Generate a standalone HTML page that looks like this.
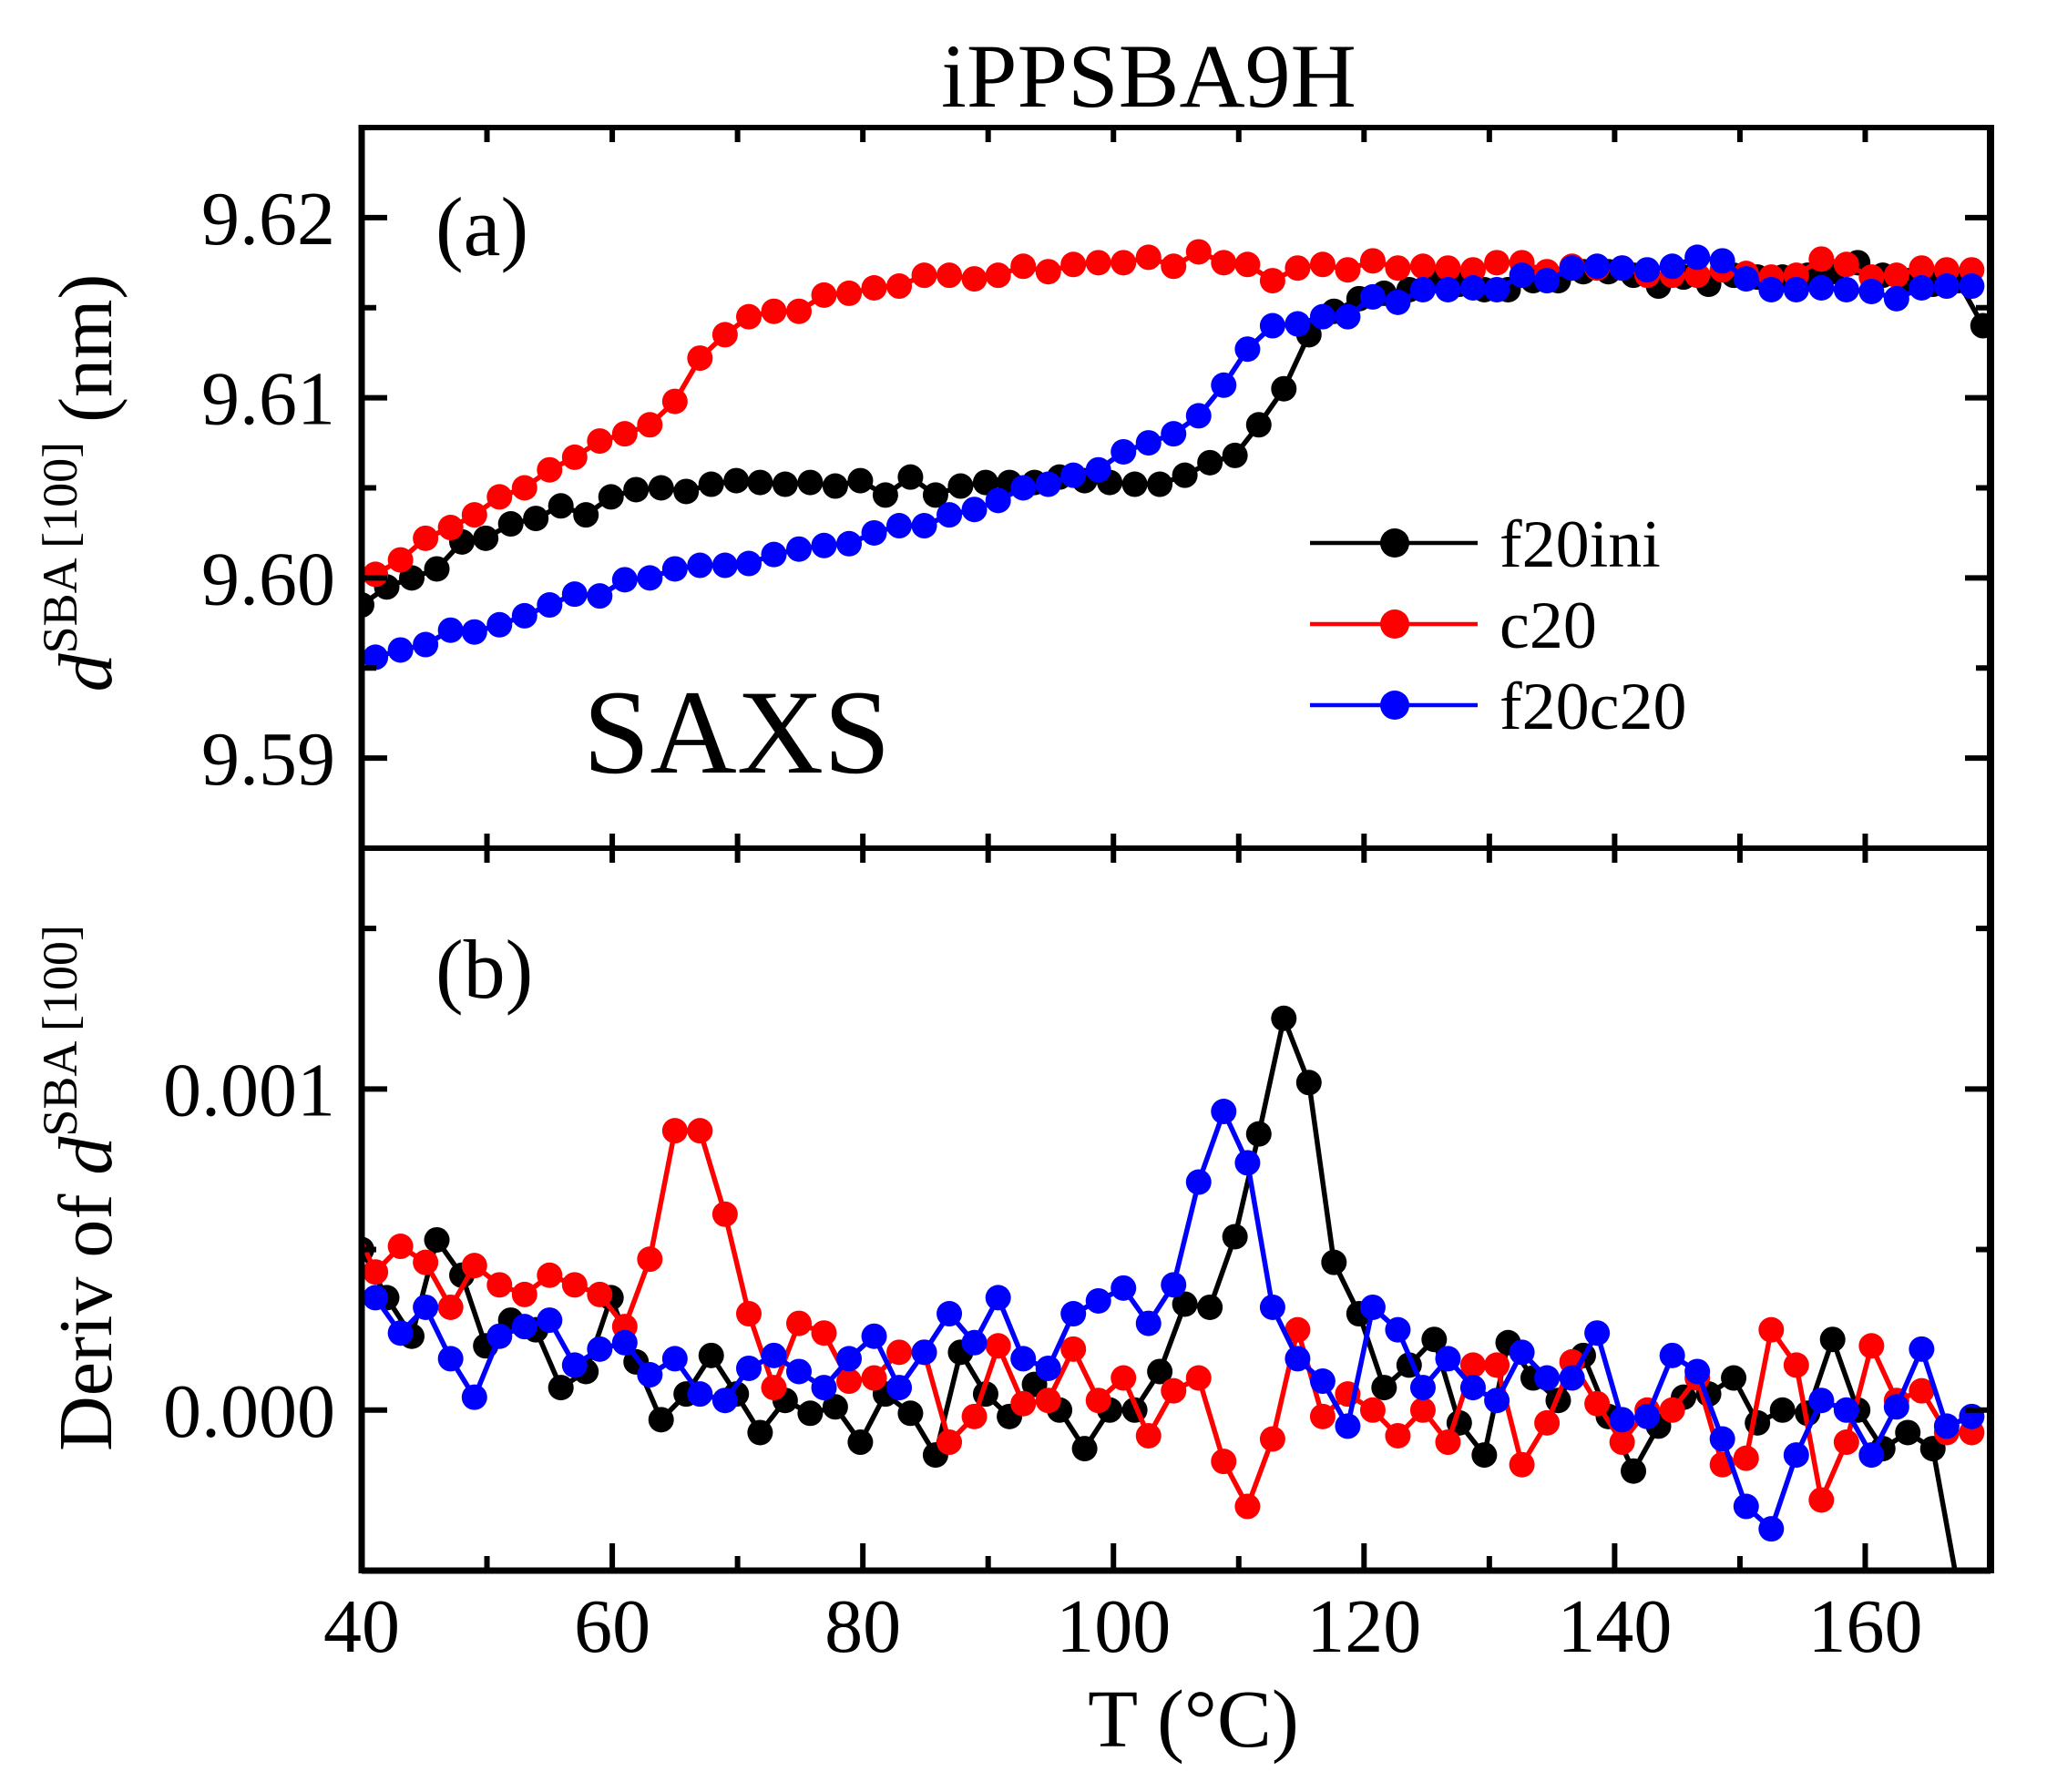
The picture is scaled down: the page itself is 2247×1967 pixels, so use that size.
<!DOCTYPE html>
<html><head><meta charset="utf-8">
<style>
html,body{margin:0;padding:0;background:#fff;}
svg{display:block;}
text{font-family:"Liberation Serif","DejaVu Serif",serif;fill:#000;}
</style></head>
<body>
<svg id="chart" width="2247" height="1967" viewBox="0 0 2247 1967" xmlns="http://www.w3.org/2000/svg">
<defs>
<clipPath id="clipA"><rect x="397" y="140" width="1788" height="791"/></clipPath>
<clipPath id="clipB"><rect x="397" y="931" width="1788" height="793"/></clipPath>
</defs>
<text x="1261" y="117" font-size="100" text-anchor="middle">iPPSBA9H</text>
<g id="gA"></g>
<g id="gB"></g>
<g id="axes"></g>
<text x="478" y="280" font-size="92">(a)</text>
<text x="478" y="1095" font-size="92">(b)</text>
<text x="640" y="848" font-size="132">SAXS</text>
<text transform="translate(122,530) rotate(-90)" font-size="84" text-anchor="middle"><tspan font-style="italic">d</tspan><tspan font-size="54" dy="-38">SBA [100]</tspan><tspan dy="38"> (nm)</tspan></text>
<text transform="translate(122,1304) rotate(-90)" font-size="84" text-anchor="middle">Deriv of <tspan font-style="italic">d</tspan><tspan font-size="54" dy="-38">SBA [100]</tspan></text>
<text x="1310" y="1917" font-size="90" text-anchor="middle">T (°C)</text>
<g id="legend"></g>
</svg>
<script>
const tempsF20ini = [40.0,42.0,44.0,46.0,48.0,49.9,51.9,53.9,55.9,57.9,59.9,61.9,63.9,65.9,67.9,69.9,71.8,73.8,75.8,77.8,79.8,81.8,83.8,85.8,87.8,89.8,91.7,93.7,95.7,97.7,99.7,101.7,103.7,105.7,107.7,109.7,111.6,113.6,115.6,117.6,119.6,121.6,123.6,125.6,127.6,129.6,131.5,133.5,135.5,137.5,139.5,141.5,143.5,145.5,147.5,149.5,151.4,153.4,155.4,157.4,159.4,161.4,163.4,165.4,167.4,169.4];
const tempsC20 = [39.1,41.1,43.1,45.1,47.1,49.0,51.0,53.0,55.0,57.0,59.0,61.0,63.0,65.0,67.0,69.0,70.9,72.9,74.9,76.9,78.9,80.9,82.9,84.9,86.9,88.9,90.8,92.8,94.8,96.8,98.8,100.8,102.8,104.8,106.8,108.8,110.7,112.7,114.7,116.7,118.7,120.7,122.7,124.7,126.7,128.7,130.6,132.6,134.6,136.6,138.6,140.6,142.6,144.6,146.6,148.6,150.5,152.5,154.5,156.5,158.5,160.5,162.5,164.5,166.5,168.5];
const tempsF20c20 = [39.1,41.1,43.1,45.1,47.1,49.0,51.0,53.0,55.0,57.0,59.0,61.0,63.0,65.0,67.0,69.0,70.9,72.9,74.9,76.9,78.9,80.9,82.9,84.9,86.9,88.9,90.8,92.8,94.8,96.8,98.8,100.8,102.8,104.8,106.8,108.8,110.7,112.7,114.7,116.7,118.7,120.7,122.7,124.7,126.7,128.7,130.6,132.6,134.6,136.6,138.6,140.6,142.6,144.6,146.6,148.6,150.5,152.5,154.5,156.5,158.5,160.5,162.5,164.5,166.5,168.5];
const dF20ini = [9.5985,9.5995,9.600,9.6005,9.602,9.6022,9.603,9.6033,9.604,9.6035,9.6045,9.6049,9.605,9.6048,9.6052,9.6054,9.6053,9.6052,9.6053,9.6051,9.6054,9.6046,9.6056,9.6046,9.6051,9.6053,9.6053,9.6053,9.6056,9.6054,9.6053,9.6052,9.6052,9.6057,9.6064,9.6068,9.6085,9.6105,9.6135,9.6148,9.6155,9.6158,9.616,9.6165,9.6163,9.616,9.616,9.6165,9.6165,9.617,9.617,9.6168,9.6162,9.6167,9.6163,9.6168,9.6167,9.6167,9.6168,9.617,9.6175,9.6168,9.6165,9.6163,9.6165,9.614];
const dC20 = [9.5995,9.6002,9.601,9.6022,9.6028,9.6035,9.6045,9.605,9.606,9.6067,9.6076,9.608,9.6085,9.6098,9.6122,9.6135,9.6145,9.6148,9.6148,9.6157,9.6158,9.6161,9.6162,9.6168,9.6168,9.6166,9.6168,9.6173,9.617,9.6174,9.6175,9.6175,9.6178,9.6173,9.6181,9.6175,9.6174,9.6165,9.6172,9.6174,9.6171,9.6176,9.6172,9.6173,9.6172,9.6171,9.6175,9.6175,9.617,9.6173,9.6172,9.6172,9.6168,9.6168,9.6168,9.6171,9.6169,9.6167,9.6168,9.6177,9.6174,9.6167,9.6168,9.6172,9.6171,9.6171];
const dF20c20 = [9.5955,9.5956,9.596,9.5963,9.5971,9.597,9.5974,9.5979,9.5985,9.5991,9.599,9.5999,9.6,9.6005,9.6007,9.6007,9.6008,9.6013,9.6016,9.6018,9.6019,9.6025,9.6029,9.6029,9.6035,9.6038,9.6043,9.605,9.6052,9.6057,9.606,9.607,9.6075,9.608,9.609,9.6107,9.6127,9.614,9.6141,9.6145,9.6145,9.6156,9.6153,9.616,9.616,9.6161,9.616,9.6168,9.6165,9.6172,9.6173,9.6172,9.6171,9.6173,9.6178,9.6176,9.6166,9.616,9.616,9.6161,9.616,9.6159,9.6155,9.6161,9.6162,9.6162];
// derivative values in units of 1e-3
const derivF20ini = [0.5,0.35,0.23,0.53,0.42,0.2,0.28,0.25,0.07,0.12,0.35,0.15,-0.03,0.05,0.17,0.05,-0.07,0.03,-0.01,0.01,-0.1,0.05,-0.01,-0.14,0.18,0.05,-0.02,0.08,0.0,-0.12,0.0,0.0,0.12,0.33,0.32,0.54,0.86,1.22,1.02,0.46,0.3,0.07,0.14,0.22,-0.04,-0.14,0.21,0.1,0.03,0.17,-0.02,-0.19,-0.05,0.04,0.05,0.1,-0.04,0.0,-0.01,0.22,0.0,-0.12,-0.07,-0.12,-0.55,-0.9];
const derivC20 = [0.6,0.43,0.51,0.46,0.32,0.45,0.39,0.36,0.42,0.39,0.36,0.26,0.47,0.87,0.87,0.61,0.3,0.07,0.27,0.24,0.09,0.1,0.18,0.18,-0.1,-0.02,0.2,0.02,0.03,0.19,0.03,0.1,-0.08,0.06,0.1,-0.16,-0.3,-0.09,0.25,-0.02,0.05,0.0,-0.08,0.0,-0.1,0.14,0.14,-0.17,-0.04,0.15,0.02,-0.1,0.0,0.0,0.1,-0.17,-0.15,0.25,0.14,-0.28,-0.1,0.2,0.03,0.06,-0.07,-0.07];
const derivF20c20 = [0.32,0.35,0.24,0.32,0.16,0.04,0.23,0.26,0.28,0.14,0.19,0.21,0.11,0.16,0.05,0.03,0.13,0.17,0.12,0.07,0.16,0.23,0.07,0.18,0.3,0.21,0.35,0.16,0.13,0.3,0.34,0.38,0.27,0.39,0.71,0.93,0.77,0.32,0.16,0.09,-0.05,0.32,0.25,0.07,0.16,0.07,0.03,0.18,0.1,0.1,0.24,-0.03,-0.02,0.17,0.12,-0.09,-0.3,-0.37,-0.14,0.03,0.0,-0.14,0.01,0.19,-0.05,-0.02];
const seriesNames = ["f20ini","c20","f20c20"];
const seriesColors = ["#000000","#ff0000","#0000ff"];
const xTickLabels = ["40","60","80","100","120","140","160"];
const yTickLabelsA = ["9.59","9.60","9.61","9.62"];
const yTickLabelsB = ["0.000","0.001"];

const NS="http://www.w3.org/2000/svg";
const L=397,R=2185,TA=140,MID=931,BB=1724;
const xS=t=>L+(t-40)/(170-40)*(R-L);
const yA=v=>TA+(9.625-v)/(9.625-9.585)*(MID-TA);
const yB=v=>MID+(1.75-v)/(1.75-(-0.5))*(BB-MID);
function mk(tag,at,parent){const e=document.createElementNS(NS,tag);for(const k in at)e.setAttribute(k,at[k]);parent.appendChild(e);return e;}

function drawSeries(parent,xs,ys,yf,color,name,clip){
  const g=mk('g',{'clip-path':'url(#'+clip+')'},parent);
  
  
  const pts=xs.map((t,i)=>xS(t).toFixed(1)+','+yf(ys[i]).toFixed(1)).join(' ');
  const pl=mk('polyline',{points:pts,fill:'none',stroke:color,'stroke-width':5.5,'stroke-linejoin':'round'},g);
  
  
  xs.forEach((t,i)=>{
    const c=mk('circle',{cx:xS(t),cy:yf(ys[i]),r:14,fill:color},g);
    
    
  });
}
const gA=document.getElementById('gA'),gB=document.getElementById('gB');
const tempSets=[tempsF20ini,tempsC20,tempsF20c20];
const topData=[dF20ini,dC20,dF20c20],botData=[derivF20ini,derivC20,derivF20c20];
topData.forEach((d,i)=>drawSeries(gA,tempSets[i],d,yA,seriesColors[i],seriesNames[i]+'-a','clipA'));
botData.forEach((d,i)=>drawSeries(gB,tempSets[i],d,yB,seriesColors[i],seriesNames[i]+'-b','clipB'));

const ax=document.getElementById('axes');
function line(x1,y1,x2,y2,w,name){const l=mk('line',{x1,y1,x2,y2,stroke:'#000','stroke-width':w},ax);
  
  return l;}
line(L,TA,R,TA,6,'top-axis');line(L,MID,R,MID,6,'middle-axis');line(L,BB,R,BB,7,'x-axis');
line(L,TA-3,L,BB+3,7,'left-axis');line(R,TA-3,R,BB+3,8,'right-axis');
for(let t=40;t<=170;t+=10){
  const major=(t%20===0),x=xS(t),len=major?30:16;
  line(x,BB,x,BB-len,6,'x-tick');
  line(x,TA,x,TA+16,6,'x-tick-top');
  line(x,MID-16,x,MID+16,6,'x-tick-mid');
}
xTickLabels.forEach(s=>{const t=+s;
  const e=mk('text',{x:xS(t),y:1813,'font-size':84,'text-anchor':'middle'},ax);e.textContent=s;
  
  });
for(let v=9.59;v<=9.6251;v+=0.005){const y=yA(v),major=Math.abs(Math.round(v*100)-v*100)<1e-6,len=major?28:16;
  line(L,y,L+len,y,6,'y-tick-a');line(R,y,R-len,y,6,'y-tick-a-right');}
yTickLabelsA.forEach(s=>{const e=mk('text',{x:368,y:yA(+s)+29,'font-size':84,'text-anchor':'end'},ax);e.textContent=s;
  
  });
for(let v=0;v<=1.5001;v+=0.5){const y=yB(v),major=Math.abs(v-Math.round(v))<1e-6,len=major?28:16;
  line(L,y,L+len,y,6,'y-tick-b');line(R,y,R-len,y,6,'y-tick-b-right');}
yTickLabelsB.forEach(s=>{const e=mk('text',{x:368,y:yB(+s*1000)+29,'font-size':84,'text-anchor':'end'},ax);e.textContent=s;
  
  });
const lg=document.getElementById('legend');
[596,685,774].forEach((y,i)=>{
  const g=mk('g',{},lg);
  
  
  mk('line',{x1:1438,y1:y,x2:1622,y2:y,stroke:seriesColors[i],'stroke-width':4.5},g);
  mk('circle',{cx:1531,cy:y,r:16,fill:seriesColors[i]},g);
  const t=mk('text',{x:1646,y:y+26,'font-size':74},g);t.textContent=seriesNames[i];
});
</script>
</body></html>
